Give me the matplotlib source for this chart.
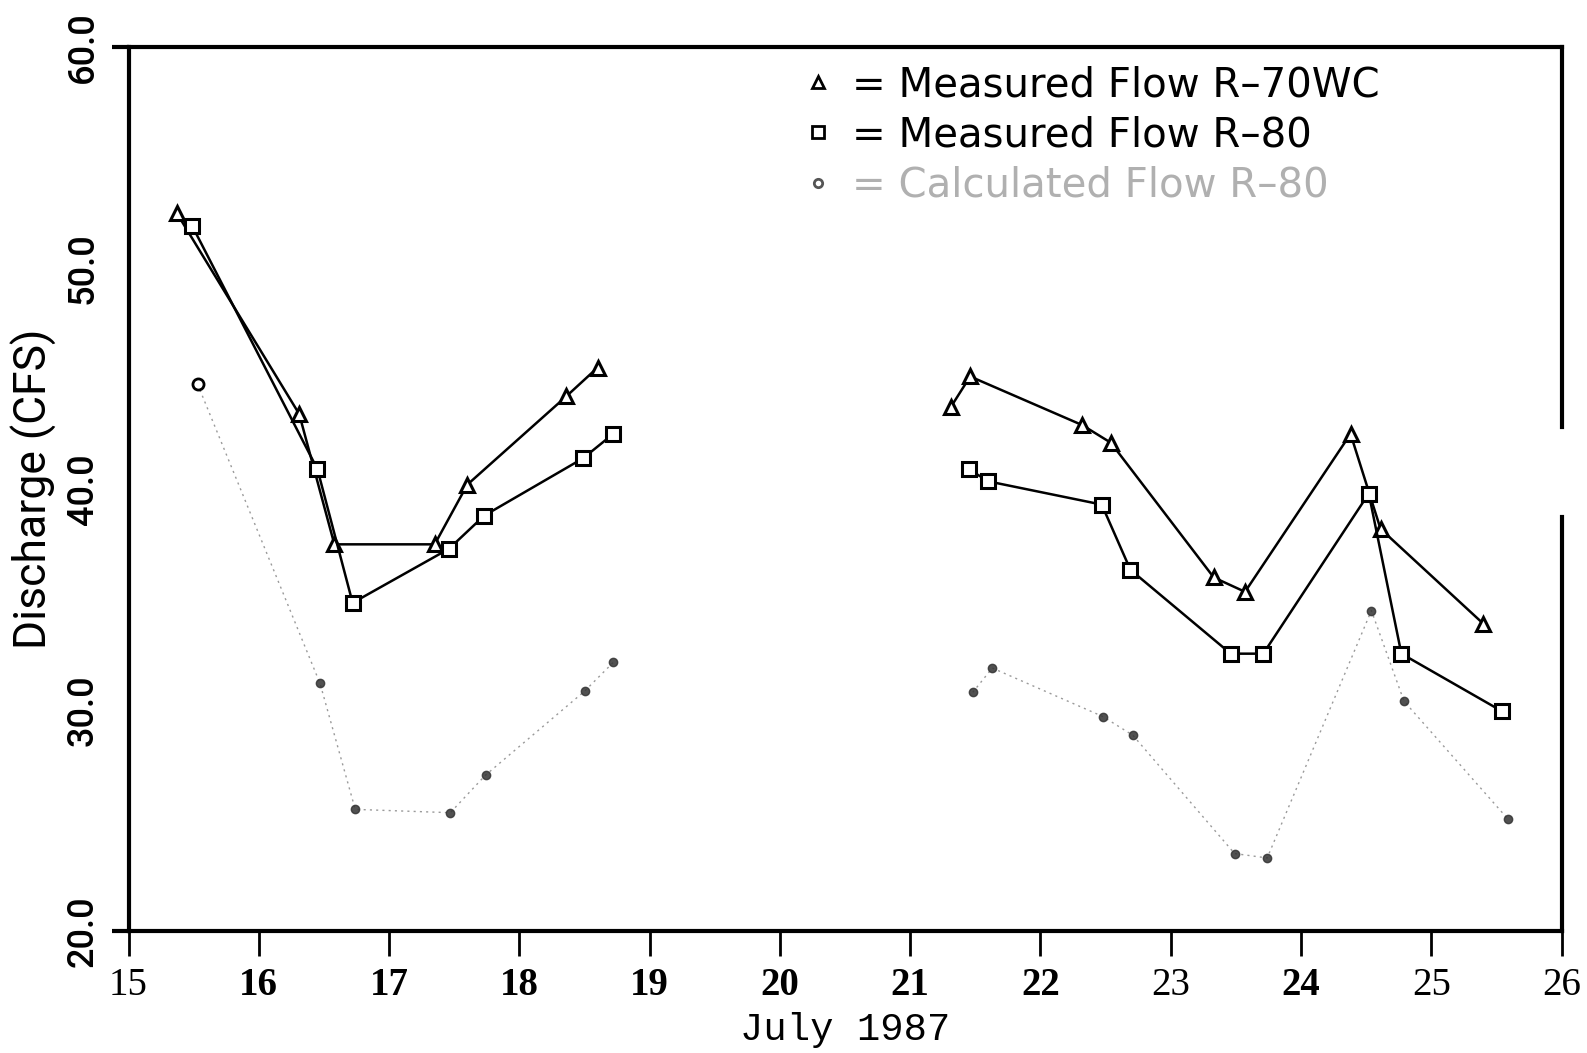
import matplotlib
matplotlib.use("Agg")
import matplotlib.pyplot as plt
from matplotlib.lines import Line2D

# R-70WC measured (triangles)
r70_left_x = [15.37, 16.31, 16.58, 17.35, 17.60, 18.36, 18.60]
r70_left_y = [52.5, 43.4, 37.5, 37.5, 40.2, 44.2, 45.5]
r70_right_x = [21.31, 21.46, 22.32, 22.54, 23.33, 23.57, 24.38, 24.61, 25.40]
r70_right_y = [43.7, 45.1, 42.9, 42.1, 36.0, 35.35, 42.5, 38.2, 33.9]

# R-80 measured (squares)
r80_left_x = [15.49, 16.45, 16.72, 17.46, 17.73, 18.49, 18.72]
r80_left_y = [51.9, 40.9, 34.85, 37.3, 38.8, 41.4, 42.5]
r80_right_x = [21.45, 21.60, 22.47, 22.69, 23.46, 23.71, 24.52, 24.77, 25.54]
r80_right_y = [40.9, 40.35, 39.3, 36.35, 32.55, 32.55, 39.8, 32.55, 29.95]

# R-80 calculated (circles)
calc_left_x = [15.53, 16.47, 16.74, 17.47, 17.74, 18.50, 18.72]
calc_left_y = [44.75, 31.2, 25.5, 25.35, 27.05, 30.85, 32.15]
calc_right_x = [21.48, 21.63, 22.48, 22.71, 23.49, 23.74, 24.54, 24.79, 25.59]
calc_right_y = [30.8, 31.9, 29.7, 28.85, 23.5, 23.3, 34.5, 30.4, 25.05]

x_ticks = list(range(15, 27))
bold_days = {16, 17, 18, 19, 20, 21, 22, 24}
y_edge_ticks = [20, 60]
y_edge_labels = ["20.0", "60.0"]
y_inner_ticks = [30, 40, 50]
y_inner_labels = ["30.0", "40.0", "50.0"]

legend_labels = ["= Measured Flow R\u201370WC", "= Measured Flow R\u201380", "= Calculated Flow R\u201380"]

fig = plt.figure(figsize=(15.87, 10.53), dpi=100)
ax = fig.add_axes([0.081, 0.116, 0.903, 0.839])

lw = 1.8
ms = 10
for xs, ys in [(r70_left_x, r70_left_y), (r70_right_x, r70_right_y)]:
    ax.plot(xs, ys, color="black", lw=lw, marker="^", ms=ms, mfc="white",
            mec="black", mew=2.2, zorder=3)
for xs, ys in [(r80_left_x, r80_left_y), (r80_right_x, r80_right_y)]:
    ax.plot(xs, ys, color="black", lw=lw, marker="s", ms=ms, mfc="white",
            mec="black", mew=2.2, zorder=3)
for xs, ys in [(calc_left_x, calc_left_y), (calc_right_x, calc_right_y)]:
    ax.plot(xs, ys, color="#9a9a9a", lw=1.0, ls=(0, (1.5, 3)), zorder=2)
    ax.plot(xs, ys, ls="none", marker="o", ms=6, mfc="#333333", mec="#333333",
            alpha=0.85, zorder=2)
# first calculated point drawn as open circle
ax.plot(calc_left_x[:1], calc_left_y[:1], ls="none", marker="o", ms=8,
        mfc="white", mec="black", mew=2, zorder=4)

ax.set_xlim(15, 26)
ax.set_ylim(20, 60)

for side in ["left", "top", "bottom"]:
    ax.spines[side].set_linewidth(3)
ax.spines["right"].set_visible(False)
ax.axvline(26, ymin=0.57, ymax=1.0, color="black", lw=3, clip_on=False)
ax.axvline(26, ymin=0.0, ymax=0.469, color="black", lw=3, clip_on=False)

ax.set_xticks(x_ticks)
ax.set_xticklabels([str(d) for d in x_ticks], family="Liberation Serif", fontsize=28)
for lab, d in zip(ax.get_xticklabels(), x_ticks):
    lab.set_fontweight("bold" if d in bold_days else "normal")
ax.tick_params(axis="x", direction="out", length=18, width=2, pad=8)

ytick_font = dict(rotation=90, va="center", fontsize=26, fontweight="medium",
                  family="Roboto")
ax.set_yticks(y_edge_ticks)
ax.set_yticklabels(y_edge_labels, **ytick_font)
ax.tick_params(axis="y", which="major", direction="out", length=12, width=3, pad=8)
ax.set_yticks(y_inner_ticks, minor=True)
ax.set_yticklabels(y_inner_labels, minor=True, **ytick_font)
ax.tick_params(axis="y", which="minor", length=0, pad=20)

ax.set_ylabel("Discharge (CFS)", fontsize=32, family="Roboto", labelpad=6)
ax.set_xlabel("July 1987", fontsize=28, family="Liberation Mono", labelpad=6)

handles = [
    Line2D([], [], ls="none", marker="^", ms=8, mfc="white", mec="black", mew=2),
    Line2D([], [], ls="none", marker="s", ms=8, mfc="white", mec="black", mew=2),
    Line2D([], [], ls="none", marker="o", ms=6, mfc="white", mec="#555555", mew=2),
]
leg = ax.legend(handles, legend_labels, loc="upper left",
                bbox_to_anchor=(0.46, 1.0), frameon=False, fontsize=29,
                handlelength=0.6, handletextpad=0.55, labelspacing=0.25,
                borderaxespad=0.05)
texts = leg.get_texts()
texts[2].set_color("#b0b0b0")

fig.savefig("out.png", dpi=100)
